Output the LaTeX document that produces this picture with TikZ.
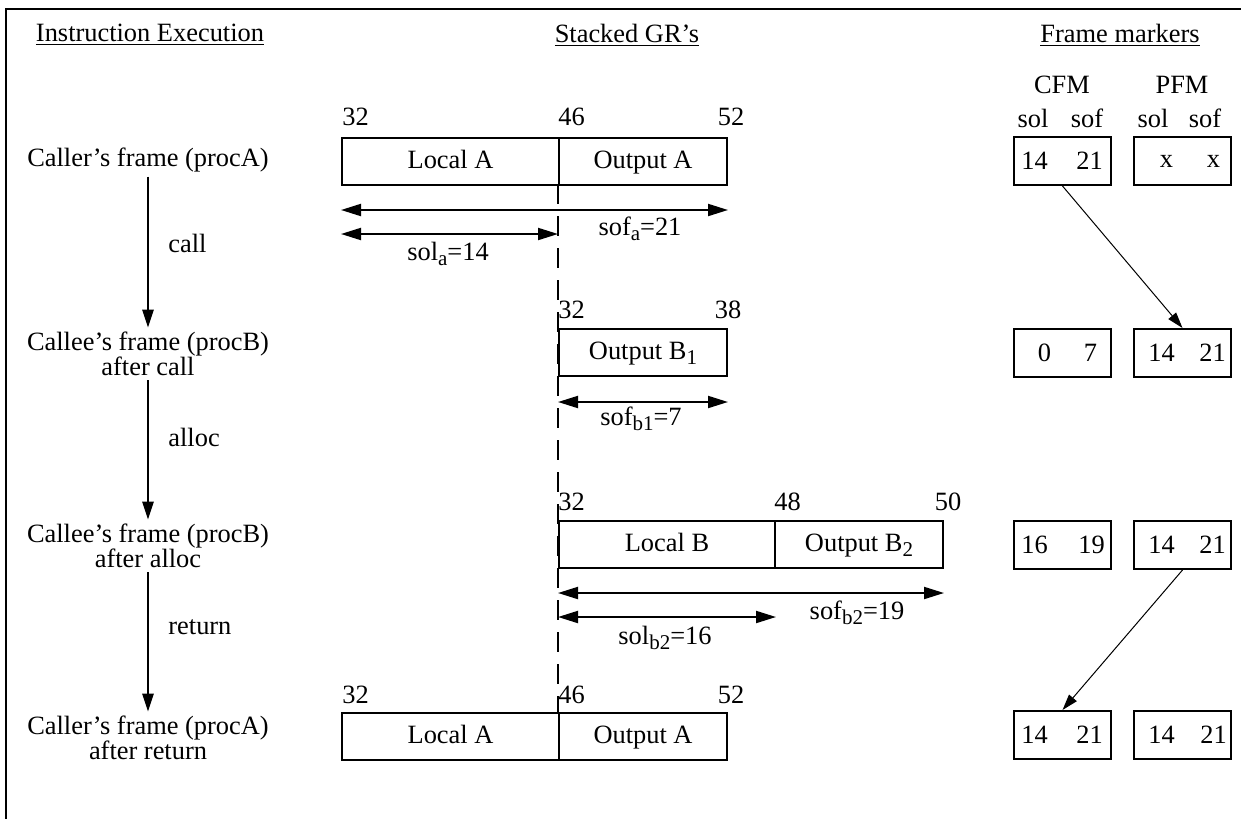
\documentclass[tikz,border=0pt]{standalone}
\usepackage{fontspec}
\setmainfont{Liberation Serif}
\usepackage{tikz}
\usetikzlibrary{arrows.meta, positioning, calc}
\newcommand{\lowsub}[1]{\raisebox{-2.6pt}{\fontsize{10.5}{10.5}\selectfont #1}}
\tikzset{
  grbox/.style={rectangle, draw=black, line width=1pt, fill=white,
                minimum width=#1, minimum height=23.5pt, inner sep=0pt,
                text height=10pt, text depth=3pt, anchor=north west},
  grbox/.default=84pt,
  fmbox/.style={rectangle, draw=black, line width=1pt, minimum width=48.5pt,
                minimum height=24pt, inner sep=0pt, anchor=north west},
  dimarrow/.style={{Triangle[length=10pt,width=6pt]}-{Triangle[length=10pt,width=6pt]},
                   line width=1pt},
  steparrow/.style={-{Triangle[length=9pt,width=5.5pt]}, line width=1.3pt},
  ptrarrow/.style={-{Triangle[length=8pt,width=5pt]}, line width=0.5pt},
  stage/.style={align=center, inner sep=2pt},
  steplabel/.style={anchor=west, inner sep=0pt},
  num/.style={inner sep=0pt},
  heading/.style={inner sep=0pt},
  gap/.style={dash pattern=on 10pt off 6pt, line width=1pt},
}

\begin{document}
\begin{tikzpicture}[x=0.5pt, y=-0.5pt, font=\fontsize{13.2}{12.5}\selectfont]
\useasboundingbox (0,0) rectangle (1241,819);

% ── Frame ─────────────────────────────────────────────────────────────────────
\draw[line width=0.8pt] (1241,9) -- (6,9) -- (6,819);

% ── Headings ──────────────────────────────────────────────────────────────────
\node[heading] (hexec)  at (150,35)  {\underline{Instruction Execution}};
\node[heading] (hgr)    at (627,35)  {\underline{Stacked GR's}};
\node[heading] (hmark)  at (1120,35) {\underline{Frame markers}};

% ── Instruction execution column ──────────────────────────────────────────────
\node[stage] (st1) at (148,160) {Caller's frame (procA)};
\node[stage] (st2) at (148,354) {Callee's frame (procB)\\after call};
\node[stage] (st3) at (148,546) {Callee's frame (procB)\\after alloc};
\node[stage] (st4) at (148,738) {Caller's frame (procA)\\after return};

\draw[steparrow] (st1) -- (st2);
\draw[steparrow] (st2) -- (st3);
\draw[steparrow] (st3) -- (st4);

\node[steplabel] (tcall)   at (168,243) {call};
\node[steplabel] (talloc)  at (168,437) {alloc};
\node[steplabel] (treturn) at (168,627) {return};

% ── Stacked GR's ──────────────────────────────────────────────────────────────
\draw[gap] (558,184) -- (558,712);

% row 1: procA
\node[grbox=108.5pt] (la1) at (341,137) {Local A};
\node[grbox]         (oa1) at (558,137) {Output A};
\node[num, anchor=west] at ($(la1.north west)+(1,-20)$) {32};
\node[num, anchor=west] at ($(oa1.north west)+(0,-20)$) {46};
\node[num] at ($(oa1.north east)+(3,-20)$) {52};
\draw[dimarrow] ($(la1.south west)+(0,24)$) -- ($(oa1.south east)+(0,24)$);
\draw[dimarrow] ($(la1.south west)+(0,48)$) -- ($(oa1.south west)+(0,48)$);
\node at (640,229) {sof\lowsub{a}=21};
\node at (448,254) {sol\lowsub{a}=14};

% row 2: procB after call
\node[grbox] (ob2) at (558,328) {Output B\lowsub{1}};
\node[num, anchor=west] at ($(ob2.north west)+(0,-18)$) {32};
\node[num] at ($(ob2.north east)+(0,-18)$) {38};
\draw[dimarrow] ($(ob2.south west)+(0,25)$) -- ($(ob2.south east)+(0,25)$);
\node at (641,419) {sof\lowsub{b1}=7};

% row 3: procB after alloc
\node[grbox=108pt] (lb3) at (558,520) {Local B};
\node[grbox]       (ob3) at (774,520) {Output B\lowsub{2}};
\node[num, anchor=west] at ($(lb3.north west)+(0,-18)$) {32};
\node[num, anchor=west] at ($(ob3.north west)+(0,-18)$) {48};
\node[num] at ($(ob3.north east)+(4,-18)$) {50};
\draw[dimarrow] ($(lb3.south west)+(0,24)$) -- ($(ob3.south east)+(0,24)$);
\draw[dimarrow] ($(lb3.south west)+(0,48)$) -- ($(lb3.south east)+(0,48)$);
\node at (857,613) {sof\lowsub{b2}=19};
\node at (665,638) {sol\lowsub{b2}=16};

% row 4: procA after return
\node[grbox=108.5pt] (la4) at (341,712) {Local A};
\node[grbox]         (oa4) at (558,712) {Output A};
\node[num, anchor=west] at ($(la4.north west)+(1,-17)$) {32};
\node[num, anchor=west] at ($(oa4.north west)+(0,-17)$) {46};
\node[num] at ($(oa4.north east)+(3,-17)$) {52};

% ── Frame markers ─────────────────────────────────────────────────────────────
\node[heading] (hcfm) at (1062,85) {CFM};
\node[heading] (hpfm) at (1182,85) {PFM};
\node[heading] at (1033,118) {sol};
\node[heading] at (1087,118) {sof};
\node[heading] at (1153,118) {sol};
\node[heading] at (1205,118) {sof};

\node[fmbox] (cfm1) at (1013,136) {};
\node[fmbox] (pfm1) at (1133,136) {};
\node[fmbox] (cfm2) at (1013,328) {};
\node[fmbox] (pfm2) at (1133,328) {};
\node[fmbox] (cfm3) at (1013,520) {};
\node[fmbox] (pfm3) at (1133,520) {};
\node[fmbox] (cfm4) at (1013,710) {};
\node[fmbox] (pfm4) at (1133,710) {};

\node[num] at ($(cfm1.center)+(-28,0)$) {14};
\node[num] at ($(cfm1.center)+(27,0)$)  {21};
\node[num] at ($(pfm1.center)+(-16,0)$) {x};
\node[num] at ($(pfm1.center)+(31,0)$)  {x};
\node[num] at ($(cfm2.center)+(-18,0)$) {0};
\node[num] at ($(cfm2.center)+(28,0)$)  {7};
\node[num] at ($(pfm2.center)+(-21,0)$) {14};
\node[num] at ($(pfm2.center)+(30,0)$)  {21};
\node[num] at ($(cfm3.center)+(-28,0)$) {16};
\node[num] at ($(cfm3.center)+(29,0)$)  {19};
\node[num] at ($(pfm3.center)+(-21,0)$) {14};
\node[num] at ($(pfm3.center)+(30,0)$)  {21};
\node[num] at ($(cfm4.center)+(-28,0)$) {14};
\node[num] at ($(cfm4.center)+(27,0)$)  {21};
\node[num] at ($(pfm4.center)+(-21,0)$) {14};
\node[num] at ($(pfm4.center)+(31,0)$)  {21};

\draw[ptrarrow] (cfm1.south) -- (pfm2.north);
\draw[ptrarrow] (pfm3.south) -- (cfm4.north);

\end{tikzpicture}
\end{document}
